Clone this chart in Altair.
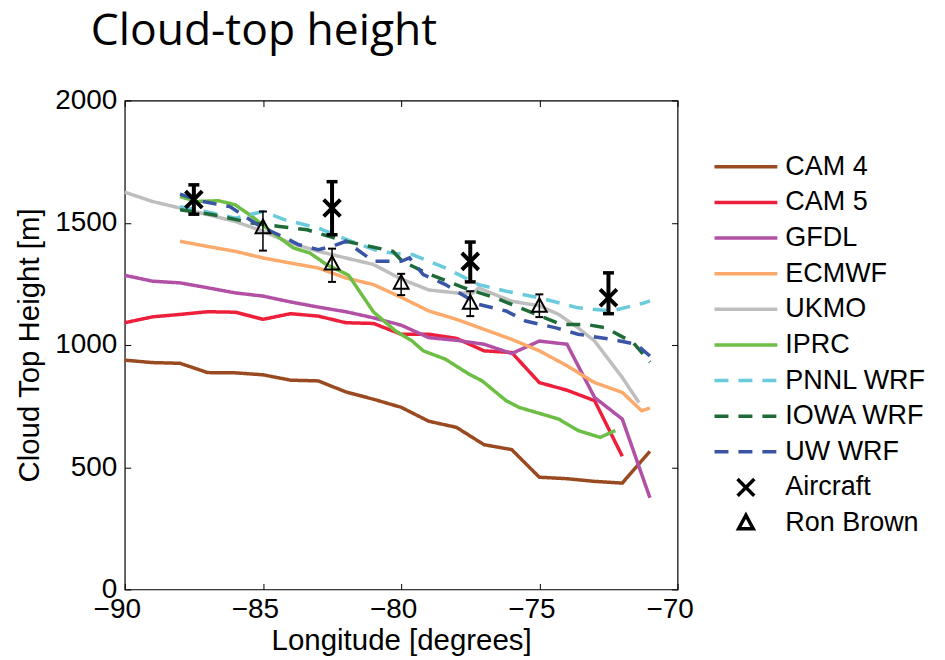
import altair as alt
import pandas as pd

SERIES = ["CAM 4", "CAM 5", "GFDL", "ECMWF", "UKMO", "IPRC",
          "PNNL WRF", "IOWA WRF", "UW WRF", "Aircraft", "Ron Brown"]
COLORS = ["#9A4A20", "#EE1F3B", "#B250A6", "#FBAA6B", "#BEBEBE", "#6CBE45",
          "#6ACBDD", "#1E6B37", "#3A55A5", "#000000", "#000000"]

cam4_lon = [-90, -89, -88, -87, -86, -85, -84, -83, -82, -81, -80, -79, -78, -77, -76, -75, -74, -73, -72, -71]
cam4_h = [938, 928, 925, 887, 886, 878, 856, 853, 808, 778, 745, 688, 663, 592, 572, 459, 453, 442, 435, 565]

cam5_lon = [-90, -89, -88, -87, -86, -85, -84, -83, -82, -81, -80, -79, -78, -77, -76, -75, -74, -73, -72]
cam5_h = [1091, 1115, 1125, 1136, 1134, 1105, 1128, 1118, 1091, 1088, 1044, 1044, 1027, 976, 969, 846, 815, 772, 545]

gfdl_lon = [-90, -89, -88, -87, -86, -85, -84, -83, -82, -81, -80, -79, -78, -77, -76, -75, -74, -73, -72, -71]
gfdl_h = [1285, 1261, 1254, 1234, 1213, 1200, 1176, 1155, 1136, 1111, 1081, 1030, 1019, 1003, 965, 1016, 1003, 785, 697, 375]

ecmwf_lon = [-88, -87, -86, -85, -84, -83, -82, -81, -80, -79, -78, -77, -76, -75, -74, -73, -72, -71.3, -71]
ecmwf_h = [1424, 1403, 1383, 1356, 1335, 1315, 1274, 1247, 1195, 1139, 1105, 1064, 1023, 976, 915, 846, 806, 731, 742]

ukmo_lon = [-90, -89, -88, -87, -86, -85, -84, -83, -82, -81, -80, -79, -78, -77.4, -77.2, -76, -75, -74.3, -73.6, -73, -72, -71.4]
ukmo_h = [1625, 1587, 1560, 1533, 1505, 1465, 1417, 1383, 1356, 1329, 1270, 1225, 1213, 1213, 1233, 1179, 1160, 1125, 1070, 1016, 867, 765]

iprc_lon = [-88, -87.4, -86.6, -86, -85.4, -84.8, -83.9, -83.3, -82.7, -82.2, -81.9, -81, -80.2, -79.6, -79.2, -78.4, -77.55, -77.07, -76.2, -75.74, -74.3, -73.6, -72.8, -72.25]
iprc_h = [1607, 1587, 1590, 1573, 1526, 1472, 1397, 1376, 1329, 1302, 1285, 1135, 1057, 1016, 976, 942, 881, 853, 772, 745, 697, 650, 622, 650]

pnnl_lon = [-88, -86.8, -86, -85, -84.2, -83, -81.8, -80.8, -80, -79.6, -78.4, -77.2, -76.2, -75, -73.6, -72.4, -71.2, -71]
pnnl_h = [1566, 1539, 1519, 1546, 1512, 1478, 1424, 1383, 1372, 1370, 1315, 1247, 1220, 1193, 1152, 1139, 1172, 1180]

iowa_lon = [-88, -86.8, -85.35, -84.4, -83.4, -82, -80.3, -79.95, -79.1, -77.7, -76.6, -75.7, -74.2, -73.3, -72.6, -71.6, -71]
iowa_h = [1553, 1533, 1498, 1485, 1471, 1424, 1383, 1342, 1295, 1233, 1193, 1152, 1084, 1084, 1070, 1009, 930]

uw_lon = [-88, -87.2, -86.2, -85.1, -84.3, -83.7, -83, -82.5, -82, -81, -80, -79.7, -79.2, -78.4, -77.2, -76.2, -75.5, -74.4, -73.6, -72.4, -71.5, -71]
uw_h = [1617, 1587, 1566, 1485, 1444, 1410, 1390, 1403, 1424, 1342, 1342, 1356, 1288, 1247, 1166, 1139, 1098, 1070, 1044, 1023, 1003, 955]

air_lon = [-87.5, -82.5, -77.5, -72.5]
air_h = [1595, 1560, 1342, 1193]
air_lo = [1535, 1451, 1258, 1128]
air_hi = [1655, 1668, 1421, 1295]

ship_lon = [-85, -82.5, -80, -77.5, -75]
ship_h = [1481, 1332, 1254, 1172, 1159]
ship_lo = [1386, 1258, 1204, 1118, 1114]
ship_hi = [1546, 1394, 1291, 1220, 1207]

model_data = [
    ("CAM 4", cam4_lon, cam4_h), ("CAM 5", cam5_lon, cam5_h), ("GFDL", gfdl_lon, gfdl_h),
    ("ECMWF", ecmwf_lon, ecmwf_h), ("UKMO", ukmo_lon, ukmo_h), ("IPRC", iprc_lon, iprc_h),
    ("PNNL WRF", pnnl_lon, pnnl_h), ("IOWA WRF", iowa_lon, iowa_h), ("UW WRF", uw_lon, uw_h),
]
rows = []
for name, lons, hs in model_data:
    for lo, h in zip(lons, hs):
        rows.append({"series": name, "lon": lo, "h": h})
df_lines = pd.DataFrame(rows)

df_air = pd.DataFrame({"series": "Aircraft", "lon": air_lon, "h": air_h, "lo": air_lo, "hi": air_hi})
df_ship = pd.DataFrame({"series": "Ron Brown", "lon": ship_lon, "h": ship_h, "lo": ship_lo, "hi": ship_hi})

FONT = "Liberation Sans"
LINE_PATH = "M-3,0L3,0"
X_PATH = "M-0.8,-0.8L0.8,0.8M-0.8,0.8L0.8,-0.8"
TRI_PATH = "M0,-0.75L0.7,0.55L-0.7,0.55Z"

color_scale = alt.Scale(domain=SERIES, range=COLORS)
dash_scale = alt.Scale(domain=SERIES, range=[[1, 0]] * 6 + [[14, 10]] * 3 + [[1, 0]] * 2)
shape_scale = alt.Scale(domain=SERIES, range=[LINE_PATH] * 9 + [X_PATH, TRI_PATH])

legend = alt.Legend(title=None, orient="none", legendX=609, legendY=53,
                    labelFont=FONT, labelFontSize=27, labelColor="black",
                    symbolSize=441, symbolStrokeWidth=3.5, labelOffset=26,
                    gridAlign="all", rowPadding=4.7, padding=0,
                    symbolFillColor="transparent")

xscale = alt.Scale(domain=[-90, -70], nice=False, zero=False)
yscale = alt.Scale(domain=[0, 2000], nice=False)

x_axis = alt.Axis(values=[-90, -85, -80, -75, -70], offset=-6, domain=False, grid=False,
                  tickSize=6, tickColor="black", tickWidth=1,
                  labelFont=FONT, labelFontSize=28, labelColor="black", labelPadding=6,
                  labelOffset=-8, labelFlush=False,
                  title="Longitude [degrees]", titleFont=FONT, titleFontSize=29.5,
                  titleFontWeight="normal", titleColor="black",
                  titleX=277, titleY=66, titleAlign="center", titleBaseline="alphabetic")
y_axis = alt.Axis(values=[0, 500, 1000, 1500, 2000], format="d", offset=-6, domain=False,
                  grid=False, tickSize=6, tickColor="black", tickWidth=1,
                  labelFont=FONT, labelFontSize=28, labelColor="black", labelPadding=8,
                  title="Cloud Top Height [m]", titleFont=FONT, titleFontSize=29.5,
                  titleFontWeight="normal", titleColor="black", titlePadding=10)
x_top = alt.Axis(orient="top", values=[-90, -85, -80, -75, -70], offset=-6, domain=False,
                 grid=False, labels=False, title=None, tickSize=6, tickColor="black", tickWidth=1)
y_right = alt.Axis(orient="right", values=[0, 500, 1000, 1500, 2000], offset=-6, domain=False,
                   grid=False, labels=False, title=None, tickSize=6, tickColor="black", tickWidth=1)

lines = alt.Chart(df_lines).mark_line(strokeWidth=3.5).encode(
    x=alt.X("lon:Q", scale=xscale, axis=x_axis),
    y=alt.Y("h:Q", scale=yscale, axis=y_axis),
    color=alt.Color("series:N", scale=color_scale, legend=legend),
    strokeDash=alt.StrokeDash("series:N", scale=dash_scale, legend=legend),
)

def errbars(df, width, cap, capthick):
    rule = alt.Chart(df).mark_rule(color="black", strokeWidth=width).encode(
        x=alt.X("lon:Q", scale=xscale, axis=None),
        y=alt.Y("lo:Q", scale=yscale, axis=None),
        y2="hi:Q",
    )
    lo = alt.Chart(df).mark_tick(color="black", orient="horizontal", size=cap,
                                 thickness=capthick, opacity=1).encode(
        x=alt.X("lon:Q", scale=xscale, axis=None),
        y=alt.Y("lo:Q", scale=yscale, axis=None),
    )
    hi = alt.Chart(df).mark_tick(color="black", orient="horizontal", size=cap,
                                 thickness=capthick, opacity=1).encode(
        x=alt.X("lon:Q", scale=xscale, axis=None),
        y=alt.Y("hi:Q", scale=yscale, axis=None),
    )
    return [rule, lo, hi]

air_pts = alt.Chart(df_air).mark_point(filled=False, size=441, strokeWidth=4, opacity=1).encode(
    x=alt.X("lon:Q", scale=xscale, axis=x_top),
    y=alt.Y("h:Q", scale=yscale, axis=y_right),
    color=alt.Color("series:N", scale=color_scale, legend=legend),
    shape=alt.Shape("series:N", scale=shape_scale, legend=legend),
)
ship_pts = alt.Chart(df_ship).mark_point(filled=False, size=441, strokeWidth=2, opacity=1).encode(
    x=alt.X("lon:Q", scale=xscale, axis=None),
    y=alt.Y("h:Q", scale=yscale, axis=None),
    color=alt.Color("series:N", scale=color_scale, legend=legend),
    shape=alt.Shape("series:N", scale=shape_scale, legend=legend),
)

layers = [lines] + errbars(df_ship, 1.5, 8, 2) + errbars(df_air, 4, 11, 3.5) + [ship_pts, air_pts]

chart = alt.layer(*layers).resolve_axis(x="independent", y="independent").properties(
    width=554, height=490,
    padding={"left": 117, "top": 92, "right": 260, "bottom": 70},
    autosize=alt.AutoSizeParams(type="none"),
    title=alt.Title("Cloud-top height", anchor="start", frame="group", fontSize=44.5,
                    font="Open Sans", fontWeight="normal", color="black", dx=-34, offset=32),
    background="white",
).configure_view(stroke="black", strokeWidth=1.2)

chart.save("out.html", embed_options={"renderer": "svg", "actions": False})
